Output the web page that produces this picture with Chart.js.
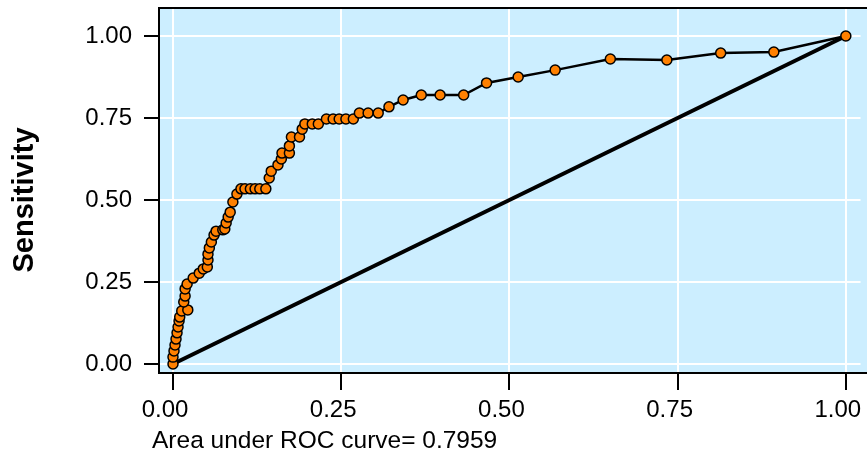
<!DOCTYPE html>
<html>
<head>
<meta charset="utf-8">
<script src="https://cdn.jsdelivr.net/npm/chart.js@4.4.0/dist/chart.umd.min.js"></script>
<style>
  html, body { margin: 0; padding: 0; background: #fff; }
  #wrap { width: 867px; height: 455px; }
</style>
</head>
<body>
<div id="wrap"><canvas id="roc" width="867" height="455"></canvas></div>
<script>
// 1 - specificity (x) and sensitivity (y)
const fpr = [0, 0, 0.0015, 0.003, 0.0045, 0.006, 0.0075, 0.009, 0.010, 0.013,
  0.022, 0.016, 0.018, 0.018, 0.021, 0.030, 0.039, 0.045, 0.051, 0.052,
  0.052, 0.054, 0.057, 0.061, 0.064, 0.074, 0.077, 0.079, 0.082, 0.085,
  0.089, 0.095, 0.101, 0.107, 0.115, 0.122, 0.129, 0.138, 0.143, 0.146,
  0.156, 0.161, 0.162, 0.173, 0.173, 0.176, 0.188, 0.192, 0.196, 0.207,
  0.216, 0.228, 0.238, 0.247, 0.257, 0.268, 0.277, 0.290, 0.305, 0.321,
  0.342, 0.369, 0.397, 0.432, 0.466, 0.513, 0.568, 0.650, 0.734, 0.814,
  0.893, 1];
const sens = [0, 0.021, 0.040, 0.058, 0.076, 0.095, 0.113, 0.131, 0.143, 0.162,
  0.165, 0.189, 0.207, 0.229, 0.244, 0.262, 0.277, 0.290, 0.296, 0.317,
  0.335, 0.354, 0.372, 0.393, 0.405, 0.409, 0.412, 0.430, 0.448, 0.463,
  0.494, 0.518, 0.534, 0.534, 0.534, 0.534, 0.534, 0.534, 0.567, 0.588,
  0.607, 0.625, 0.643, 0.643, 0.665, 0.692, 0.692, 0.716, 0.732, 0.732,
  0.732, 0.747, 0.747, 0.747, 0.747, 0.747, 0.765, 0.765, 0.765, 0.784,
  0.805, 0.820, 0.820, 0.820, 0.857, 0.875, 0.896, 0.930, 0.927, 0.948,
  0.951, 1];
const diagX = [0, 1];
const diagY = [0, 1];
const tickValues = [0, 0.25, 0.5, 0.75, 1];
const yTitle = "Sensitivity";
const caption = "Area under ROC curve= 0.7959";

const FONT = "'Liberation Sans', Arial, Helvetica, sans-serif";

const rocPoints = fpr.map((x, i) => ({ x: x, y: sens[i] }));
const diagPoints = diagX.map((x, i) => ({ x: x, y: diagY[i] }));

// plot region fill, frame and the two texts
const stataLook = {
  id: "stataLook",
  beforeDraw(chart) {
    const { ctx, chartArea: a } = chart;
    ctx.save();
    ctx.fillStyle = "#cceeff";
    ctx.fillRect(a.left, a.top, chart.width - a.left, a.bottom - a.top);
    ctx.restore();
  },
  afterDraw(chart) {
    const { ctx, chartArea: a } = chart;
    ctx.save();
    ctx.strokeStyle = "#000";
    ctx.lineWidth = 2;
    ctx.beginPath();
    ctx.moveTo(chart.width + 2, a.top);
    ctx.lineTo(a.left, a.top);
    ctx.lineTo(a.left, a.bottom);
    ctx.lineTo(chart.width + 2, a.bottom);
    ctx.stroke();

    ctx.fillStyle = "#000";
    ctx.font = "bold 29px " + FONT;
    ctx.textAlign = "center";
    ctx.textBaseline = "middle";
    ctx.translate(25, 200);
    ctx.rotate(-Math.PI / 2);
    ctx.fillText(yTitle, 0, 0);
    ctx.restore();

    ctx.save();
    ctx.fillStyle = "#000";
    ctx.font = "24.5px " + FONT;
    ctx.textAlign = "left";
    ctx.textBaseline = "middle";
    ctx.fillText(caption, 152, 441);
    ctx.restore();
  }
};

const fixTicks = scale => {
  scale.ticks = tickValues.map(v => ({ value: v }));
};

new Chart(document.getElementById("roc"), {
  type: "scatter",
  data: {
    datasets: [
      {
        label: "ROC",
        data: rocPoints,
        showLine: true,
        borderColor: "#000",
        borderWidth: 2.5,
        pointRadius: 5,
        pointBackgroundColor: "#ff8000",
        pointBorderColor: "#000",
        pointBorderWidth: 1.5,
        order: 0
      },
      {
        label: "Reference",
        data: diagPoints,
        showLine: true,
        borderColor: "#000",
        borderWidth: 4,
        pointRadius: 0,
        order: 1
      }
    ]
  },
  options: {
    responsive: false,
    animation: false,
    layout: { padding: { top: 8, right: 0, left: 0, bottom: 0 } },
    plugins: {
      legend: { display: false },
      tooltip: { enabled: false }
    },
    scales: {
      x: {
        type: "linear",
        min: -0.0208,
        max: 1.0218,
        afterBuildTicks: fixTicks,
        afterFit(scale) {
          scale.height = 82;
          scale.paddingLeft = 0;
          scale.paddingRight = 0;
        },
        border: { display: false },
        grid: {
          color: "#ffffff",
          lineWidth: 2,
          tickColor: "#000",
          tickWidth: 2,
          tickLength: 17
        },
        ticks: {
          color: "#000",
          font: { family: FONT, size: 24 },
          padding: 6,
          labelOffset: -8,
          maxRotation: 0,
          callback: v => v.toFixed(2)
        }
      },
      y: {
        type: "linear",
        min: -0.0274,
        max: 1.0854,
        afterBuildTicks: fixTicks,
        afterFit(scale) {
          scale.width = 159;
          scale.paddingTop = 0;
          scale.paddingBottom = 0;
        },
        border: { display: false },
        grid: {
          color: "#ffffff",
          lineWidth: 2,
          tickColor: "#000",
          tickWidth: 2,
          tickLength: 15
        },
        ticks: {
          color: "#000",
          font: { family: FONT, size: 24 },
          padding: 12,
          callback: v => v.toFixed(2)
        }
      }
    }
  },
  plugins: [stataLook]
});
</script>
</body>
</html>
